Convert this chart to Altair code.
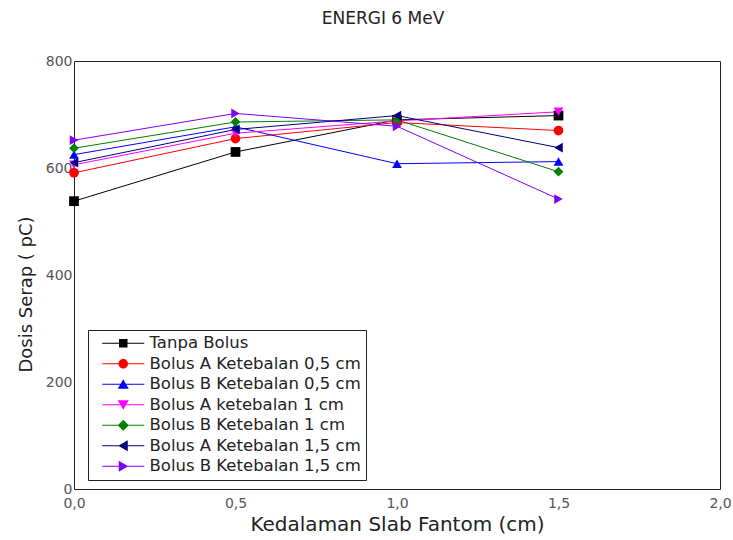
import altair as alt
import pandas as pd

# ---- data ----
depths = [0.0, 0.5, 1.0, 1.5]
series_names = [
    "Tanpa Bolus",
    "Bolus A Ketebalan 0,5 cm",
    "Bolus B Ketebalan 0,5 cm",
    "Bolus A ketebalan 1 cm",
    "Bolus B Ketebalan 1 cm",
    "Bolus A Ketebalan 1,5 cm",
    "Bolus B Ketebalan 1,5 cm",
]
tanpa_bolus = [538, 630, 690, 698]
bolus_a_05 = [591, 655, 685, 670]
bolus_b_05 = [625, 677, 608, 612]
bolus_a_1 = [606, 665, 688, 705]
bolus_b_1 = [637, 686, 690, 593]
bolus_a_15 = [610, 672, 698, 638]
bolus_b_15 = [652, 702, 678, 542]
all_values = [tanpa_bolus, bolus_a_05, bolus_b_05, bolus_a_1, bolus_b_1, bolus_a_15, bolus_b_15]

x_ticks = [0, 0.5, 1.0, 1.5, 2.0]
y_ticks = [0, 200, 400, 600, 800]

# ---- styling ----
colors = ["#000000", "#ff0000", "#0000ff", "#ff00ff", "#008000", "#000080", "#8000ff"]
shapes = ["square", "circle", "triangle-up", "triangle-down", "diamond", "triangle-left", "triangle-right"]
LINE = "M-4.2,-0.1H4.2V0.1H-4.2Z "
legend_paths = [
    LINE + "M-0.85,-0.85H0.85V0.85H-0.85Z",
    LINE + "M-0.95 0A0.95 0.95 0 1 1 0.95 0A0.95 0.95 0 1 1 -0.95 0Z",
    LINE + "M0,-1L1.1,0.9H-1.1Z",
    LINE + "M0,1L-1.1,-0.9H1.1Z",
    LINE + "M0,-1.1L1.1,0L0,1.1L-1.1,0Z",
    LINE + "M-1,0L0.9,-1.1V1.1Z",
    LINE + "M1,0L-0.9,1.1V-1.1Z",
]
FONT = "DejaVu Sans"

rows = []
for i, (name, vals) in enumerate(zip(series_names, all_values)):
    for d, v in zip(depths, vals):
        rows.append({"depth": d, "dose": v, "series": name, "k": i})
df = pd.DataFrame(rows)

x_enc = alt.X(
    "depth:Q",
    scale=alt.Scale(domain=[0, 2], nice=False),
    axis=alt.Axis(
        values=x_ticks, format=".1f", labelExpr="replace(datum.label, '.', ',')",
        title="Kedalaman Slab Fantom (cm)", titleFont=FONT, titleFontSize=20,
        titleFontWeight="normal", titleColor="#222", titlePadding=4,
        labelFont=FONT, labelFontSize=14, labelColor="#555", labelPadding=7,
        labelFlush=False, labelOverlap=False,
        ticks=False, domain=False, grid=False,
    ),
)
y_enc = alt.Y(
    "dose:Q",
    scale=alt.Scale(domain=[0, 800], nice=False),
    axis=alt.Axis(
        values=y_ticks, title="Dosis Serap ( pC)", titleFont=FONT, titleFontSize=18,
        titleFontWeight="normal", titleColor="#222", titlePadding=10, titleY=233,
        labelFont=FONT, labelFontSize=14, labelColor="#555", labelPadding=2,
        labelOverlap=False, ticks=False, domain=False, grid=False,
    ),
)

cscale = alt.Scale(domain=series_names, range=colors)

lines = alt.Chart().mark_line(strokeWidth=1).encode(
    x=x_enc, y=y_enc,
    color=alt.Color("series:N", scale=cscale, legend=None),
    order=alt.Order("depth:Q"),
)

points = alt.Chart().mark_point(filled=True, size=95, opacity=1).encode(
    x=x_enc, y=y_enc,
    color=alt.Color("series:N", scale=cscale, legend=None),
    shape=alt.Shape("series:N", scale=alt.Scale(domain=series_names, range=shapes), legend=None),
)

leg = alt.Legend(
    title=None, orient="none", legendX=14, legendY=269,
    symbolSize=100, symbolStrokeWidth=0, symbolOpacity=1, symbolOffset=22,
    labelOffset=18, labelFont=FONT, labelFontSize=16.5, labelColor="#222", labelLimit=400,
    rowPadding=3.5, padding=5, strokeColor="#222", fillColor="white", cornerRadius=0,
)

legend_layer = alt.Chart().mark_point(filled=True, opacity=1).encode(
    x=x_enc, y=y_enc,
    color=alt.Color("series:N", scale=cscale, legend=leg),
    shape=alt.Shape("series:N", scale=alt.Scale(domain=series_names, range=legend_paths), legend=leg),
).transform_filter("false")

chart = (
    alt.layer(lines, points, legend_layer, data=df)
    .resolve_scale(color="independent", shape="independent")
    .properties(
        width=646, height=428,
        title=alt.TitleParams("ENERGI 6 MeV", font=FONT, fontSize=17, fontWeight="normal",
                              color="#222", anchor="middle", dx=-14, offset=26),
        autosize=alt.AutoSizeParams(type="none"),
        padding={"left": 74, "top": 61, "right": 13, "bottom": 51},
        background="white",
    )
    .configure_view(stroke="#222", strokeWidth=1)
)

chart.save("out.html", embed_options={"renderer": "svg", "actions": False})
